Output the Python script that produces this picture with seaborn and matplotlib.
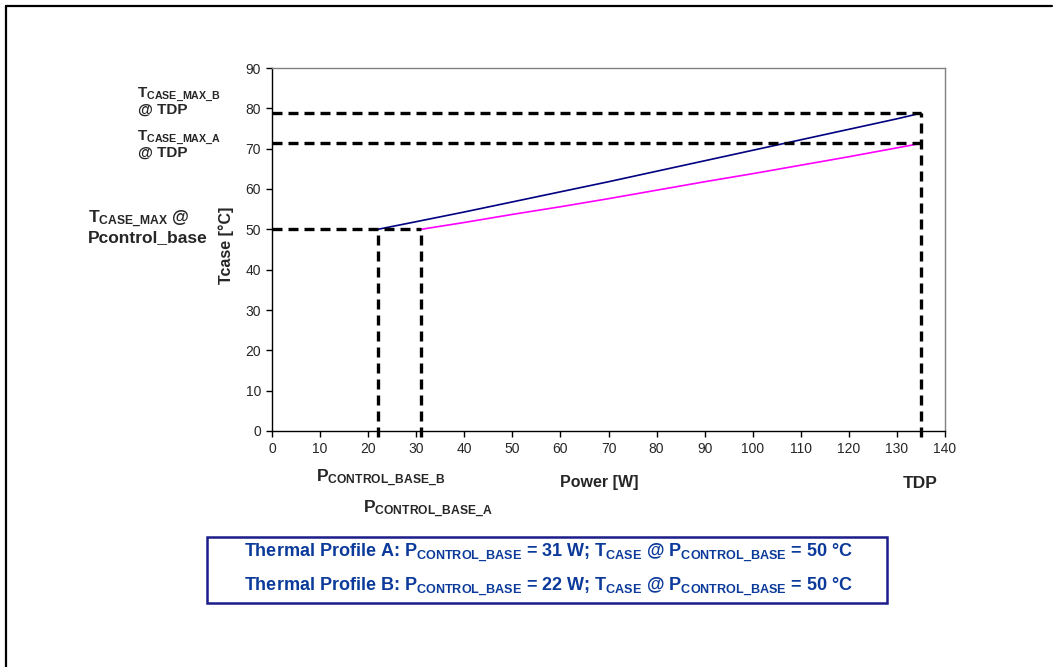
import matplotlib
matplotlib.use('Agg')
import matplotlib.pyplot as plt
import seaborn as sns
import pandas as pd
from matplotlib.lines import Line2D
from matplotlib.patches import Rectangle

# Values
power_a = [31, 40, 50, 60, 70, 80, 90, 100, 110, 120, 130, 135]
tcase_a = [50, 51.7, 53.7, 55.6, 57.6, 59.7, 61.8, 63.8, 65.9, 68.0, 70.2, 71.3]
power_b = [22, 30, 40, 50, 60, 70, 80, 90, 100, 110, 120, 130, 135]
tcase_b = [50, 51.9, 54.3, 56.8, 59.3, 61.8, 64.4, 67.0, 69.6, 72.2, 74.8, 77.4, 78.8]

p_base_a = 31
p_base_b = 22
t_base = 50
tdp = 135
tmax_a = 71.3
tmax_b = 78.8

x_ticks = list(range(0, 141, 10))
y_ticks = list(range(0, 91, 10))

W, H = 1060, 667

sns.set_style('white')
plt.rcParams['font.family'] = ['Liberation Sans', 'DejaVu Sans']
plt.rcParams['mathtext.fontset'] = 'custom'
plt.rcParams['mathtext.rm'] = 'Liberation Sans'
plt.rcParams['mathtext.bf'] = 'Liberation Sans:bold'
plt.rcParams['mathtext.it'] = 'Liberation Sans:italic'


def px(x, y):
    return x / W, 1 - y / H


fig = plt.figure(figsize=(W / 100, H / 100), dpi=100)
ax = fig.add_axes([272 / W, 1 - 431 / H, (945 - 272) / W, (431 - 68) / H])

df = pd.concat([
    pd.DataFrame({'Power': power_a, 'Tcase': tcase_a, 'Profile': 'A'}),
    pd.DataFrame({'Power': power_b, 'Tcase': tcase_b, 'Profile': 'B'}),
])
sns.lineplot(data=df, x='Power', y='Tcase', hue='Profile',
             palette={'A': '#ff00ff', 'B': '#000080'}, legend=False, ax=ax, lw=1.2)

# dashed guide lines
dash = dict(color='black', lw=2.4, ls=(0, (3, 1.8)), clip_on=False, zorder=3)
ax.plot([0, tdp], [tmax_b, tmax_b], **dash)
ax.plot([0, tdp], [tmax_a, tmax_a], **dash)
ax.plot([0, p_base_a], [t_base, t_base], **dash)
ax.plot([p_base_b, p_base_b], [-1.5, t_base], **dash)
ax.plot([p_base_a, p_base_a], [-1.5, t_base], **dash)
ax.plot([tdp, tdp], [-1.5, tmax_b], **dash)

ax.set_xlim(0, 140)
ax.set_ylim(0, 90)
ax.set_xticks(x_ticks)
ax.set_yticks(y_ticks)
ax.tick_params(bottom=True, left=True, direction='out', length=4, width=1,
               labelsize=10, color='black', pad=4)
for s in ['left', 'bottom']:
    ax.spines[s].set_color('black')
    ax.spines[s].set_linewidth(1)
for s in ['top', 'right']:
    ax.spines[s].set_color('#808080')
    ax.spines[s].set_linewidth(1)

ax.set_xlabel('')
ax.set_ylabel('')
fig.text(*px(226, 245), 'Tcase [°C]', fontsize=11.5, fontweight='bold', rotation=90,
         ha='center', va='center')
fig.text(*px(599, 482), 'Power [W]', fontsize=11.5, fontweight='bold', ha='center', va='center')

# annotations
ann = dict(fontsize=11, fontweight='bold', ha='left', va='center')
fig.text(*px(137, 95), r'T$_{\mathbf{CASE\_MAX\_B}}$', **ann)
fig.text(*px(138, 110), '@ TDP', **ann)
fig.text(*px(137, 138), r'T$_{\mathbf{CASE\_MAX\_A}}$', **ann)
fig.text(*px(138, 153), '@ TDP', **ann)
ann2 = dict(ann, fontsize=12.5)
fig.text(*px(88, 219), r'T$_{\mathbf{CASE\_MAX}}$ @', **ann2)
fig.text(*px(88, 238), 'Pcontrol_base', **ann2)

bot = dict(fontsize=12.5, fontweight='bold', ha='left', va='center')
fig.text(*px(316, 478), r'P$_{\mathbf{CONTROL\_BASE\_B}}$', **bot)
fig.text(*px(363, 509), r'P$_{\mathbf{CONTROL\_BASE\_A}}$', **bot)
fig.text(*px(903, 483), 'TDP', **bot)

# legend-like box
fig.add_artist(Rectangle(px(207, 603), (887 - 207) / W, (603 - 537) / H,
                         transform=fig.transFigure, facecolor='white',
                         edgecolor='#1c1c8a', lw=1.8))
box = dict(fontsize=13, fontweight='bold', ha='center', va='center', color='#0b3a9a')
fig.text(*px(548, 553),
         r'Thermal Profile A: P$_{\mathbf{CONTROL\_BASE}}$ = 31 W; T$_{\mathbf{CASE}}$ @ P$_{\mathbf{CONTROL\_BASE}}$ = 50 °C',
         **box)
fig.text(*px(548, 587),
         r'Thermal Profile B: P$_{\mathbf{CONTROL\_BASE}}$ = 22 W; T$_{\mathbf{CASE}}$ @ P$_{\mathbf{CONTROL\_BASE}}$ = 50 °C',
         **box)

# outer frame (left and top edges)
fig.add_artist(Line2D([6 / W, 6 / W], [0, 1 - 6 / H], color='black', lw=1.6, transform=fig.transFigure))
fig.add_artist(Line2D([6 / W, 1052 / W], [1 - 6 / H, 1 - 6 / H], color='black', lw=1.6, transform=fig.transFigure))

fig.savefig('out.png', dpi=100, facecolor='white')
